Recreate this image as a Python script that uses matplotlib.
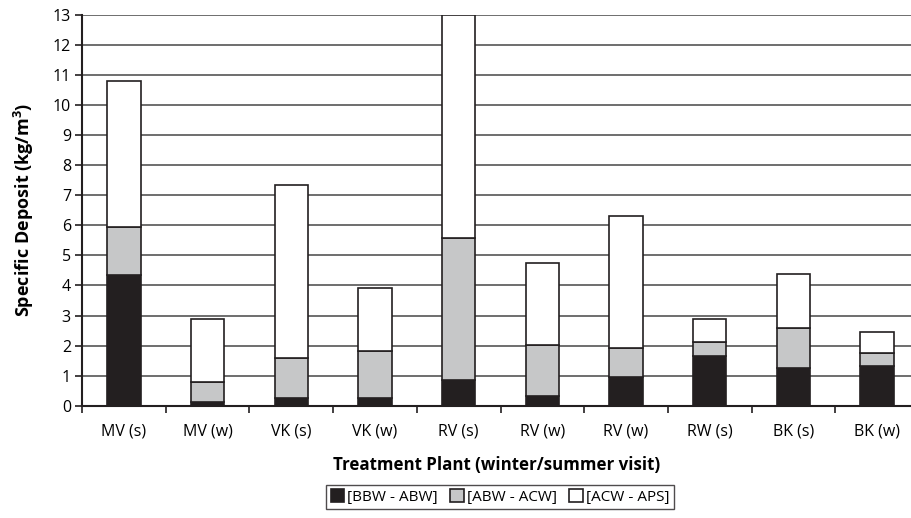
import numpy as np
import matplotlib
matplotlib.use('Agg')
import matplotlib.pyplot as plt

plt.rcParams['font.family'] = ['Open Sans', 'DejaVu Sans']

# Data
plants = ['MV (s)', 'MV (w)', 'VK (s)', 'VK (w)', 'RV (s)',
          'RV (w)', 'RV (w)', 'RW (s)', 'BK (s)', 'BK (w)']
bbw_abw = [4.35, 0.11, 0.27, 0.27, 0.84, 0.33, 0.96, 1.66, 1.24, 1.33]
abw_acw = [1.58, 0.67, 1.31, 1.55, 4.73, 1.69, 0.95, 0.47, 1.34, 0.42]
acw_aps = [4.89, 2.11, 5.76, 2.09, 7.43, 2.72, 4.41, 0.76, 1.81, 0.71]
series_names = ['[BBW - ABW]', '[ABW - ACW]', '[ACW - APS]']

fig = plt.figure(figsize=(9.11, 5.18), dpi=100)
ax = fig.add_axes([82 / 911, 1 - 405.7 / 518, 1 - 82 / 911, 390.7 / 518])

x = np.arange(len(plants))
w = 0.40
edge = '#231f20'
ax.bar(x, bbw_abw, w, color='#231f20', edgecolor=edge, linewidth=1.2,
       label=series_names[0], zorder=3)
bottom = np.array(bbw_abw)
ax.bar(x, abw_acw, w, bottom=bottom, color='#c6c7c8', edgecolor=edge,
       linewidth=1.2, label=series_names[1], zorder=3)
bottom = bottom + np.array(abw_acw)
ax.bar(x, acw_aps, w, bottom=bottom, color='white', edgecolor=edge,
       linewidth=1.2, label=series_names[2], zorder=3)

ax.set_ylim(0, 13)
ax.set_xlim(-0.5, 9.5 - 8 / 83.7)
ax.set_yticks(range(0, 14))
ax.yaxis.grid(True, color='#555555', linewidth=1.2, zorder=0)

# category ticks sit between the bars
ax.set_xticks(np.arange(-0.5, 9.5, 1.0))
ax.set_xticklabels([])
ax.set_xticks(x, minor=True)
ax.set_xticklabels(plants, minor=True)
ax.tick_params(axis='x', which='minor', length=0, pad=13, labelsize=11.5)
ax.tick_params(axis='x', which='major', length=5, width=1.2, color=edge)
ax.tick_params(axis='y', length=5, width=1.2, color=edge, labelsize=11.5,
               pad=3)

for side in ['top', 'right']:
    ax.spines[side].set_visible(False)
for side in ['left', 'bottom']:
    ax.spines[side].set_color(edge)
    ax.spines[side].set_linewidth(1.5)

ax.set_ylabel('Specific Deposit (kg/m$^\\mathregular{3}$)', fontsize=13,
              fontweight='bold', labelpad=12)
ax.set_xlabel('Treatment Plant (winter/summer visit)', fontsize=12.2,
              fontweight='bold', labelpad=12)

leg = ax.legend(loc='upper center', ncol=3, fontsize=11,
                frameon=True, fancybox=False, edgecolor=edge,
                handlelength=0.9, handleheight=0.9, handletextpad=0.2,
                columnspacing=0.8, borderpad=0.3)
leg.set_bbox_to_anchor((500 / 911, 1 - 477 / 518), transform=fig.transFigure)
leg.get_frame().set_linewidth(1.0)

fig.savefig('out.png', dpi=100)
